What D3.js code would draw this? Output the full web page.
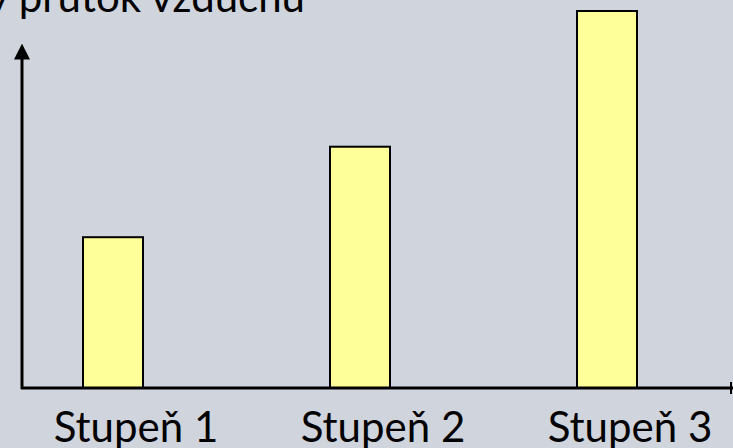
<!DOCTYPE html>
<html>
<head>
<meta charset="utf-8">
<script src="https://cdn.jsdelivr.net/npm/d3@7"></script>
<style>
  html, body { margin: 0; padding: 0; background: #d0d4dc; }
  svg { display: block; }
  text { font-family: Lato, "Noto Sans", sans-serif; fill: #000; }
</style>
</head>
<body>
<svg id="chart"></svg>
<script>
const categories = ["Stupeň 1", "Stupeň 2", "Stupeň 3"];
const airflow = [40, 64, 100];
const yTitle = "Objemový průtok vzduchu";

const width = 733;
const height = 448;
const margin = { top: 11, right: 0, bottom: 60, left: 22 };
const barWidth = 60;

const svg = d3.select("#chart").attr("width", width).attr("height", height);

svg.append("rect")
  .attr("width", width)
  .attr("height", height)
  .attr("fill", "#d0d4dc");

const scaleX = d3.scalePoint()
  .domain(categories)
  .range([113, 607]);

const scaleY = d3.scaleLinear()
  .domain([0, 100])
  .range([height - margin.bottom, margin.top]);

// arrow head for the y axis
svg.append("defs").append("marker")
  .attr("id", "arrow")
  .attr("viewBox", "0 0 10 10")
  .attr("refX", 1)
  .attr("refY", 5)
  .attr("markerWidth", 16)
  .attr("markerHeight", 16)
  .attr("markerUnits", "userSpaceOnUse")
  .attr("orient", "auto")
  .append("path")
  .attr("d", "M0,0 L10,5 L0,10 Z")
  .attr("fill", "#000");

svg.selectAll("rect.bar")
  .data(airflow)
  .join("rect")
  .attr("class", "bar")
  .attr("x", (d, i) => scaleX(categories[i]) - barWidth / 2)
  .attr("y", d => scaleY(d))
  .attr("width", barWidth)
  .attr("height", d => scaleY(0) - scaleY(d))
  .style("fill", "#ffff99")
  .style("stroke", "#000")
  .style("stroke-width", 2);

// x axis line
svg.append("line")
  .attr("x1", margin.left - 1)
  .attr("x2", width + 4)
  .attr("y1", scaleY(0))
  .attr("y2", scaleY(0))
  .style("stroke", "#000")
  .style("stroke-width", 3);

svg.append("line")
  .attr("x1", width - 2)
  .attr("x2", width - 2)
  .attr("y1", scaleY(0) - 6)
  .attr("y2", scaleY(0) + 6)
  .style("stroke", "#000")
  .style("stroke-width", 2);

// y axis with arrow
svg.append("line")
  .attr("x1", margin.left)
  .attr("x2", margin.left)
  .attr("y1", scaleY(0) + 1)
  .attr("y2", 58)
  .attr("marker-end", "url(#arrow)")
  .style("stroke", "#000")
  .style("stroke-width", 3);

svg.selectAll("text.cat")
  .data(categories)
  .join("text")
  .attr("class", "cat")
  .attr("x", d => scaleX(d) + 23)
  .attr("y", 442)
  .attr("text-anchor", "middle")
  .style("font-size", "42px")
  .text(d => d);

svg.append("text")
  .attr("x", 305)
  .attr("y", 12)
  .attr("text-anchor", "end")
  .style("font-size", "42px")
  .text(yTitle);
</script>
</body>
</html>
